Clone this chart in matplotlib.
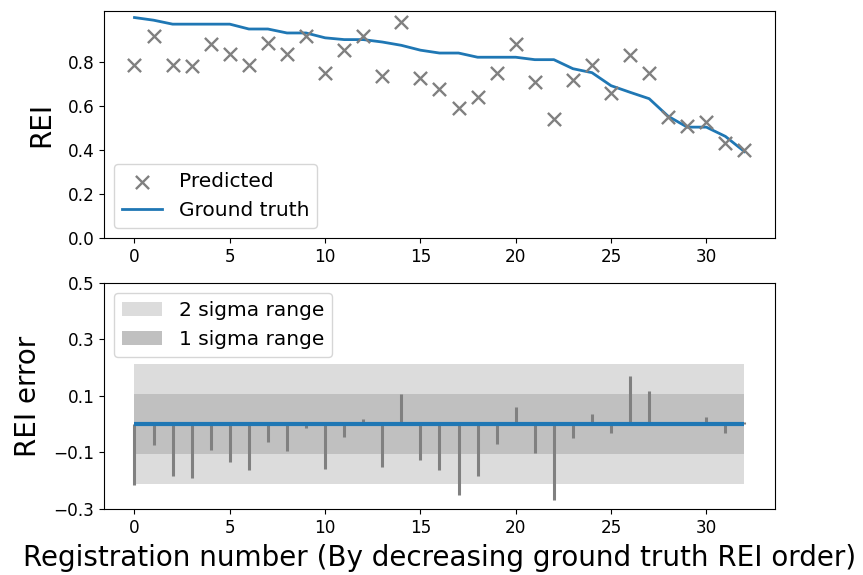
import numpy as np
import matplotlib
matplotlib.use('Agg')
import matplotlib.pyplot as plt

# registrations, sorted by decreasing ground truth REI
reg_idx = list(range(33))

rei_true = [1.000, 0.988, 0.970, 0.970, 0.970, 0.970, 0.948, 0.948, 0.930, 0.930,
            0.908, 0.900, 0.900, 0.889, 0.874, 0.852, 0.839, 0.839, 0.820, 0.820,
            0.820, 0.809, 0.809, 0.768, 0.750, 0.691, 0.661, 0.632, 0.552, 0.503,
            0.503, 0.461, 0.392]

rei_pred = [0.785, 0.915, 0.785, 0.780, 0.879, 0.835, 0.785, 0.885, 0.835, 0.915,
            0.748, 0.855, 0.918, 0.736, 0.982, 0.724, 0.676, 0.589, 0.638, 0.748,
            0.879, 0.706, 0.539, 0.718, 0.785, 0.658, 0.830, 0.748, 0.549, 0.509,
            0.527, 0.430, 0.400]

sigma = 0.1065

x = np.array(reg_idx)
err = np.array(rei_pred) - np.array(rei_true)

fig = plt.figure(figsize=(8.63, 5.75), dpi=100)
ax1 = fig.add_axes([0.1205, 0.586, 0.7775, 0.395])
ax2 = fig.add_axes([0.1205, 0.115, 0.7775, 0.393])

#%% top: predicted vs ground truth
ax1.scatter(x, rei_pred, marker='x', c='grey', s=90, linewidths=1.7,
            label='Predicted', zorder=3)
ax1.plot(x, rei_true, color='tab:blue', lw=2, label='Ground truth')
ax1.set_ylim(0, 1.03)
ax1.set_yticks([0.0, 0.2, 0.4, 0.6, 0.8])
ax1.set_xticks(range(0, 31, 5))
ax1.set_ylabel('REI', fontsize=20, labelpad=9)
ax1.tick_params(labelsize=12.2)
ax1.legend(loc='lower left', fontsize=14.5)

#%% bottom: error with sigma bands
ax2.fill_between(x, -2 * sigma, 2 * sigma, color='#dcdcdc', lw=0,
                 label='2 sigma range')
ax2.fill_between(x, -sigma, sigma, color='#c0c0c0', lw=0,
                 label='1 sigma range')
ax2.vlines(x, 0, err, color='grey', lw=2.2)
ax2.hlines(0, x[0], x[-1], color='tab:blue', lw=3)
ax2.set_ylim(-0.3, 0.5)
ax2.set_yticks([-0.3, -0.1, 0.1, 0.3, 0.5])
ax2.set_xticks(range(0, 31, 5))
ax2.set_ylabel('REI error', fontsize=20, labelpad=8)
ax2.set_xlabel('Registration number (By decreasing ground truth REI order)',
               fontsize=20, labelpad=5)
ax2.tick_params(labelsize=12.2)
ax2.legend(loc='upper left', fontsize=14.5)

for ax in (ax1, ax2):
    ax.set_xlim(-1.6, 33.6)

fig.savefig('out.png', dpi=100)
